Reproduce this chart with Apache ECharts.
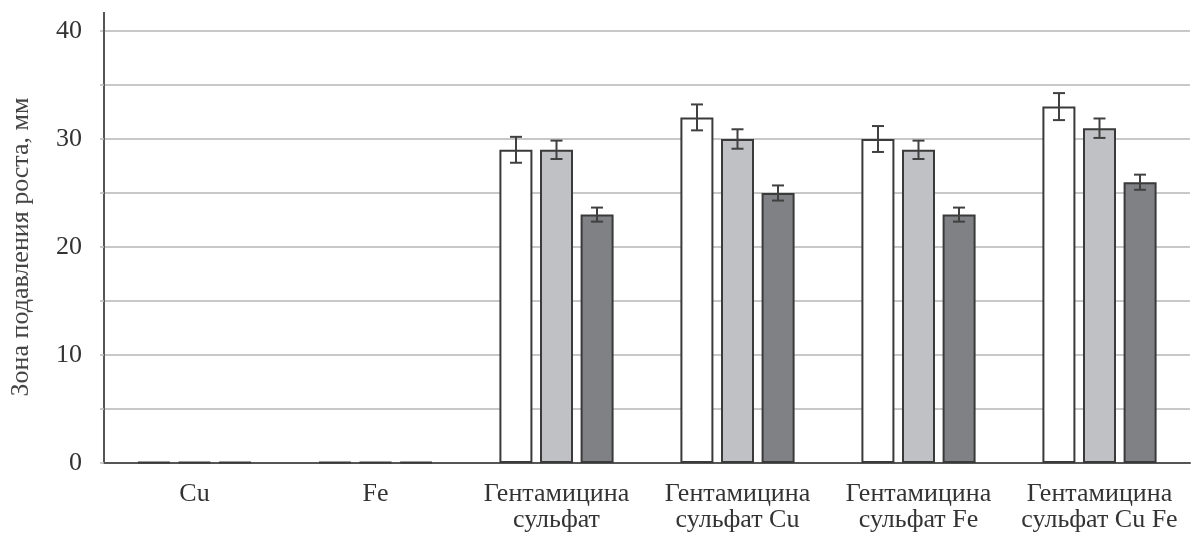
<!DOCTYPE html>
<html><head><meta charset="utf-8">
<script src="https://cdn.jsdelivr.net/npm/echarts@6/dist/echarts.min.js"></script>
<style>html,body{margin:0;padding:0;background:#fff}#c{width:1201px;height:538px}</style>
</head><body><div id="c"></div>
<script>
const categories = ['Cu', 'Fe', 'Гентамицина\nсульфат', 'Гентамицина\nсульфат Cu', 'Гентамицина\nсульфат Fe', 'Гентамицина\nсульфат Cu Fe'];
const seriesA = [0.1, 0.1, 29, 32, 30, 33];
const seriesB = [0.1, 0.1, 29, 30, 29, 31];
const seriesC = [0.1, 0.1, 23, 25, 23, 26];
const errA = [0, 0, 1.2, 1.2, 1.2, 1.25];
const errB = [0, 0, 0.85, 0.9, 0.85, 0.9];
const errC = [0, 0, 0.65, 0.7, 0.65, 0.7];
const yTicks = [0, 10, 20, 30, 40];

const font = '"Liberation Serif", "Times New Roman", serif';
const chart = echarts.init(document.getElementById('c'));
const fills = ['#ffffff', '#c0c1c4', '#808184'];
const vals = [seriesA, seriesB, seriesC];
const errs = [errA, errB, errC];

function errSeries(k) {
  const data = vals[k].map((v, i) => [i, v - errs[k][i], v + errs[k][i], errs[k][i]]);
  return {
    type: 'custom',
    z: 10,
    renderItem: function (params, api) {
      if (api.value(3) <= 0) return;
      const idx = api.value(0);
      const lo = api.coord([idx, api.value(1)]);
      const hi = api.coord([idx, api.value(2)]);
      const bw = 33, gap = 7.5;
      const groupW = bw * 3 + gap * 2;
      const x = lo[0] - groupW / 2 + bw / 2 + k * (bw + gap);
      const cap = 6;
      const st = { stroke: '#404040', lineWidth: 2 };
      return {
        type: 'group',
        children: [
          { type: 'line', shape: { x1: x, y1: lo[1], x2: x, y2: hi[1] }, style: st },
          { type: 'line', shape: { x1: x - cap, y1: lo[1], x2: x + cap, y2: lo[1] }, style: st },
          { type: 'line', shape: { x1: x - cap, y1: hi[1], x2: x + cap, y2: hi[1] }, style: st }
        ]
      };
    },
    encode: { x: 0, y: [1, 2] },
    data: data
  };
}

const barSeries = vals.map((v, k) => ({
  type: 'bar',
  data: v,
  barWidth: 33,
  barGap: '23%',
  itemStyle: { color: fills[k], borderColor: '#3a3a3a', borderWidth: 2 },
  animation: false
}));

chart.setOption({
  animation: false,
  grid: { left: 104, right: 11, top: 31, bottom: 75, containLabel: false },
  xAxis: {
    type: 'category',
    data: categories,
    axisLine: { lineStyle: { color: '#555', width: 2 } },
    axisTick: { show: false },
    axisLabel: { color: '#333', fontFamily: font, fontSize: 26, lineHeight: 26, margin: 18, interval: 0 }
  },
  yAxis: {
    type: 'value',
    min: 0, max: 40, interval: 5,
    name: 'Зона подавления роста, мм',
    nameLocation: 'middle',
    nameGap: 70,
    nameTextStyle: { color: '#444', fontFamily: font, fontSize: 26 },
    axisLine: { show: true, lineStyle: { color: '#555', width: 2 } },
    axisTick: { show: true, length: 4, lineStyle: { color: '#bbb', width: 1.5 } },
    axisLabel: {
      color: '#333', fontFamily: font, fontSize: 26, margin: 22,
      formatter: v => (yTicks.indexOf(v) >= 0 ? String(v) : '')
    },
    splitLine: { show: true, lineStyle: { color: '#c8c8c8', width: 2 } }
  },
  graphic: [{
    type: 'line', z: 100,
    shape: { x1: 104, y1: 12, x2: 104, y2: 32 },
    style: { stroke: '#555', lineWidth: 2 }
  }],
  series: barSeries.concat([errSeries(0), errSeries(1), errSeries(2)])
});
</script></body></html>
